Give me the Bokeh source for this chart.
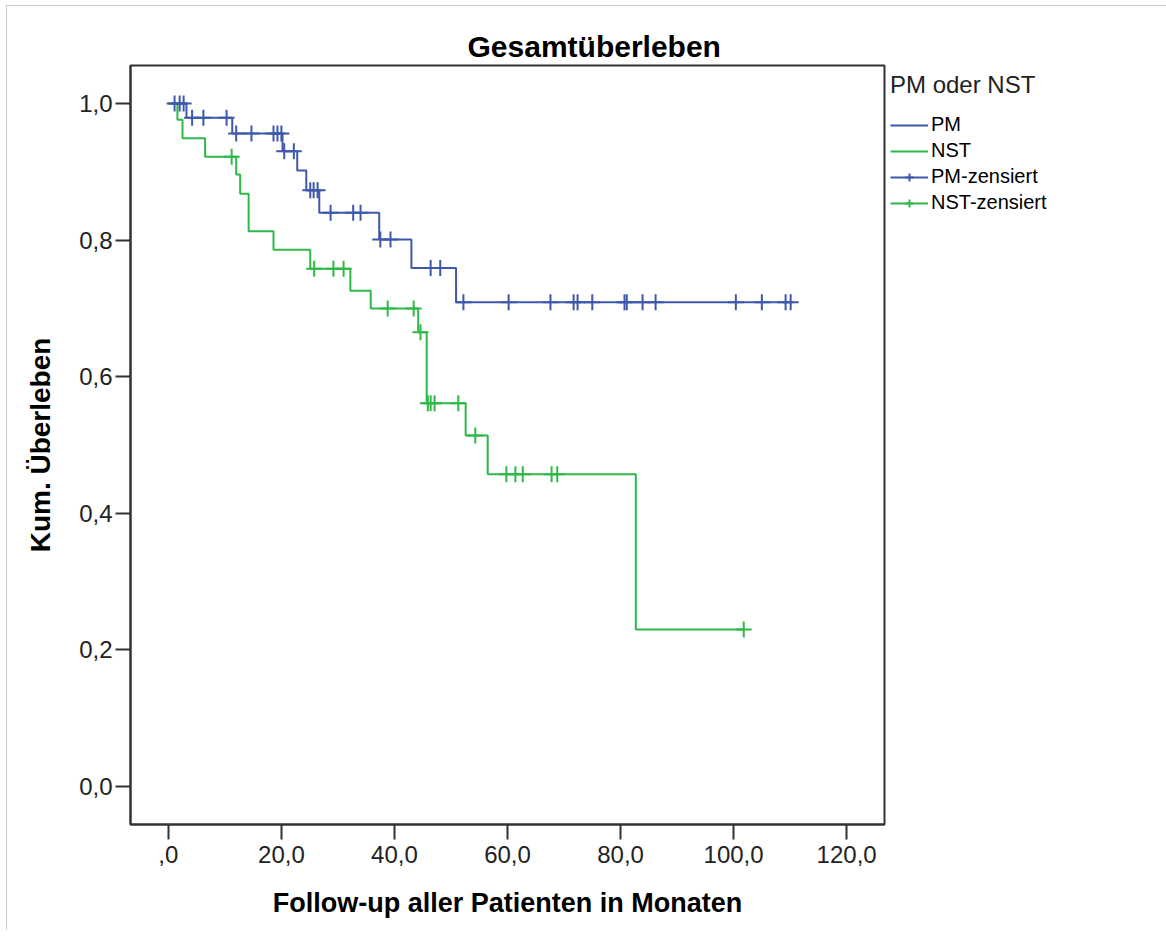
import numpy as np
from bokeh.plotting import figure
from bokeh.models import Legend, LegendItem, FixedTicker, Range1d
from bokeh.embed import file_html
from bokeh.resources import INLINE

# ---- data ----
pm_times = [0, 3.2, 11.3, 20.2, 22.8, 24.4, 26.7, 37.3, 43.0, 50.9]
pm_surv = [1.0, 0.979, 0.956, 0.930, 0.902, 0.873, 0.840, 0.801, 0.759, 0.709]
pm_censor = [1.1, 2.0, 2.7, 4.2, 6.2, 10.3, 12.0, 14.7, 18.6, 19.3, 20.0, 20.5, 22.2,
             25.1, 25.7, 26.4, 28.7, 32.7, 34.0, 37.5, 39.3, 46.4, 48.1, 52.2, 60.2,
             67.6, 71.7, 72.4, 75.0, 80.7, 81.1, 83.9, 86.2, 100.4, 105.0, 109.2, 110.1]

nst_times = [0, 1.6, 2.5, 6.5, 12.0, 12.7, 14.2, 18.6, 25.1, 32.2, 35.8, 44.2, 45.7, 52.6, 56.5, 82.7]
nst_surv = [1.0, 0.976, 0.949, 0.922, 0.896, 0.868, 0.813, 0.786, 0.758, 0.726, 0.700,
            0.665, 0.561, 0.514, 0.457, 0.230]
nst_censor = [11.2, 25.8, 29.2, 31.0, 38.8, 43.4, 44.6, 45.9, 46.4, 47.1, 51.3, 54.3,
              59.8, 61.4, 62.7, 67.8, 68.8, 101.8]

x_ticks = [0, 20, 40, 60, 80, 100, 120]
x_tick_labels = [",0", "20,0", "40,0", "60,0", "80,0", "100,0", "120,0"]
y_ticks = [0.0, 0.2, 0.4, 0.6, 0.8, 1.0]
y_tick_labels = ["0,0", "0,2", "0,4", "0,6", "0,8", "1,0"]

BLUE = "#3E58AC"
GREEN = "#2EB848"
FONT = "Liberation Sans"


def step_xy(times, surv, censor):
    end = max(censor[-1], times[-1])
    return list(times) + [end], list(surv) + [surv[-1]]


def censor_y(times, surv, censor):
    idx = np.searchsorted(np.asarray(times), np.asarray(censor), side="right") - 1
    return [surv[i] for i in idx]


p = figure(frame_width=754, frame_height=759,
           x_range=Range1d(-6.7, 126.7), y_range=Range1d(-0.0556, 1.0556),
           output_backend="svg", toolbar_location=None,
           min_border_left=123, min_border_right=272, min_border_top=59, min_border_bottom=106,
           styles={"margin-top": "5px", "margin-left": "6px",
                   "border-top": "1px solid #c8c8c8", "border-left": "1px solid #c8c8c8"})

px, py = step_xy(pm_times, pm_surv, pm_censor)
nx, ny = step_xy(nst_times, nst_surv, nst_censor)
r_pm = p.step(px, py, mode="after", line_color=BLUE, line_width=2)
r_nst = p.step(nx, ny, mode="after", line_color=GREEN, line_width=2)
r_pmc = p.scatter(pm_censor, censor_y(pm_times, pm_surv, pm_censor), marker="cross",
                  size=16, line_color=BLUE, line_width=2)
r_nstc = p.scatter(nst_censor, censor_y(nst_times, nst_surv, nst_censor), marker="cross",
                   size=16, line_color=GREEN, line_width=2)

# title
p.title.text = "Gesamtüberleben"
p.title.text_font = FONT
p.title.text_font_size = "30px"
p.title.text_font_style = "bold"
p.title.text_color = "black"
p.title.align = "left"
p.title.offset = 337
p.title.standoff = 6

# axes
for ax in (p.xaxis[0], p.yaxis[0]):
    ax.axis_line_color = "#333333"
    ax.axis_line_width = 2
    ax.major_tick_line_color = "#333333"
    ax.major_tick_line_width = 2
    ax.major_tick_out = 15
    ax.major_tick_in = 0
    ax.minor_tick_line_color = None
    ax.major_label_text_font = FONT
    ax.major_label_text_font_size = "24px"
    ax.major_label_text_color = "#222222"
    ax.axis_label_text_font = FONT
    ax.axis_label_text_font_style = "bold"
    ax.axis_label_text_color = "black"

p.xaxis.ticker = FixedTicker(ticks=x_ticks)
p.xaxis.major_label_overrides = {t: l for t, l in zip(x_ticks, x_tick_labels)}
p.yaxis.ticker = FixedTicker(ticks=y_ticks)
p.yaxis.major_label_overrides = {t: l for t, l in zip(y_ticks, y_tick_labels)}
p.xaxis.axis_label = "Follow-up aller Patienten in Monaten"
p.yaxis.axis_label = "Kum. Überleben"
p.xaxis.axis_label_text_font_size = "27px"
p.yaxis.axis_label_text_font_size = "28px"
p.xaxis.major_label_standoff = 6
p.yaxis.major_label_standoff = 3
p.xaxis.axis_label_standoff = 22
p.yaxis.axis_label_standoff = 20

p.xgrid.grid_line_color = None
p.ygrid.grid_line_color = None
p.outline_line_color = "#333333"
p.outline_line_width = 2
p.background_fill_color = "white"
p.border_fill_color = "white"

legend = Legend(items=[
    LegendItem(label="PM", renderers=[r_pm]),
    LegendItem(label="NST", renderers=[r_nst]),
    LegendItem(label="PM-zensiert", renderers=[r_pm, r_pmc]),
    LegendItem(label="NST-zensiert", renderers=[r_nst, r_nstc]),
], location="top_left")
legend.title = "PM oder NST"
legend.title_text_font = FONT
legend.title_text_font_size = "24px"
legend.title_text_font_style = "normal"
legend.title_text_color = "#222222"
legend.title_standoff = 14
legend.label_text_font = FONT
legend.label_text_font_size = "20px"
legend.label_text_color = "black"
legend.glyph_width = 38
legend.glyph_height = 20
legend.label_standoff = 3
legend.label_height = 20
legend.spacing = 3
legend.padding = 4
legend.margin = 6
legend.border_line_color = None
legend.background_fill_alpha = 0
p.add_layout(legend, "right")

open("out.html", "w").write(file_html(p, INLINE))
